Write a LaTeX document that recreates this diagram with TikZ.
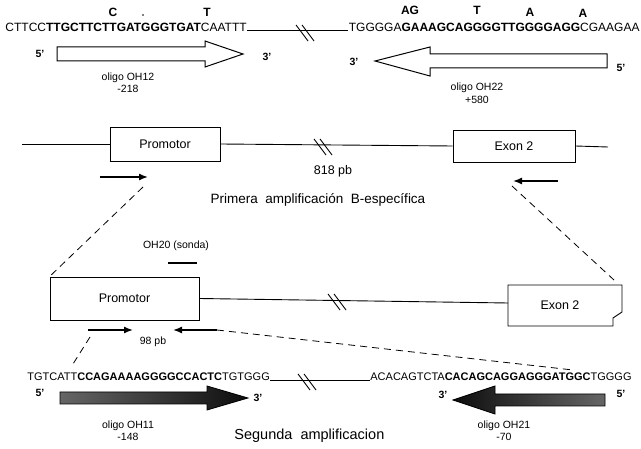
\documentclass[tikz,border=0pt]{standalone}
\usepackage{fontspec}
\setmainfont{Liberation Sans}
\usetikzlibrary{arrows.meta}

\begin{document}
\begin{tikzpicture}[x=1pt, y=-1pt, line width=0.9pt,
  seq/.style={inner sep=0pt, anchor=west, font=\fontsize{12}{12}\selectfont},
  mut/.style={inner sep=0pt, font=\fontsize{12}{12}\selectfont\bfseries},
  endlbl/.style={inner sep=0pt, font=\fontsize{10.5}{10}\selectfont\bfseries},
  lbl/.style={inner sep=0pt, font=\fontsize{10.5}{10}\selectfont},
  title/.style={inner sep=0pt, font=\fontsize{13.5}{14}\selectfont},
  region/.style={draw, inner sep=0pt, font=\fontsize{12.5}{13}\selectfont},
  primer/.style={line width=1.4pt, -{Latex[length=9pt,width=7pt]}},
  zoomline/.style={dashed, dash pattern=on 7pt off 5pt, line width=0.8pt},
  oligo/.style={draw, line width=1pt, fill=white},
  oligodark/.style={draw, line width=0.8pt, left color=black!60, right color=black!95},
  oligodarkrev/.style={draw, line width=0.8pt, left color=black!95, right color=black!60},
  brk/.pic={\draw (-8,-8) -- (4,8); \draw (-2,-8) -- (10,8);}]
  \useasboundingbox (0,0) rectangle (641,449);

  % top: sequences with mutations
  \node[seq] (seqTL) at (5,27) {CTTCC\textbf{TTGCTTCTTGATGGGTGAT}CAATTT};
  \node[seq, anchor=east] (seqTR) at (640,27) {TGGGGA\textbf{GAAAGCAGGGGTTGGGGAGG}CGAAGAA};
  \node[mut] (mutC) at (113,12) {C};
  \node[mut] (mutT) at (207,12) {T};
  \fill (143,15) circle (0.8);
  \node[mut] (mutAG) at (410,10) {AG};
  \node[mut] (mutT2) at (477,10) {T};
  \node[mut] (mutA) at (530,12) {A};
  \node[mut] (mutA2) at (583,13) {A};
  \draw ([yshift=-3pt]seqTL.east) -- ([yshift=-3pt]seqTR.west);
  \pic at (304,33) {brk};

  % oligo OH12 (sense)
  \draw[oligo] (57,47) -- (205,47) -- (205,41) -- (243,54) -- (205,67) -- (205,61) -- (57,61) -- cycle;
  \node[endlbl] (five1) at (40,54) {5'};
  \node[endlbl] (three1) at (267,57) {3'};
  \node[lbl] (oh12) at (128,78) {oligo OH12};
  \node[lbl] (pos12) at (128,89) {-218};

  % oligo OH22 (antisense)
  \draw[oligo] (607,54) -- (430,54) -- (430,47) -- (375,61) -- (430,76) -- (430,68) -- (607,68) -- cycle;
  \node[endlbl] (three2) at (354,62) {3'};
  \node[endlbl] (five2) at (621,68) {5'};
  \node[lbl] (oh22) at (477,88) {oligo OH22};
  \node[lbl] (pos22) at (477,100) {+580};

  % first amplification
  \coordinate (geneAl) at (22,144);
  \coordinate (geneAr) at (608,147);
  \node[region, minimum width=110pt, minimum height=34pt] (promA) at (165,144) {Promotor};
  \node[region, minimum width=122pt, minimum height=32pt] (exonA) at (514,146) {Exon 2};
  \draw (geneAl) -- (promA.west);
  \draw (promA.east) -- (exonA.west);
  \draw (exonA.east) -- (geneAr);
  \pic at (322,147) {brk};
  \node[region, draw=none] (len818) at (333,171) {818 pb};
  \coordinate (fwA0) at (100,177);
  \coordinate (fwA1) at (148,177);
  \coordinate (rvA0) at (558,181);
  \coordinate (rvA1) at (513,181);
  \draw[primer] (fwA0) -- (fwA1);
  \draw[primer] (rvA0) -- (rvA1);
  \node[title] (titleA) at (318,200) {Primera\ \ amplificación\ \ B-específica};

  % second amplification
  \node[lbl] (probe) at (176,246) {OH20 (sonda)};
  \coordinate (probe0) at (168,263);
  \coordinate (probe1) at (197,263);
  \draw[line width=1.6pt] (probe0) -- (probe1);
  \node[region, minimum width=149pt, minimum height=43pt] (promB) at (124.5,298.5) {Promotor};
  \node[inner sep=0pt, font=\fontsize{12.5}{13}\selectfont] (exonB) at (560,305) {Exon 2};
  \draw (508,285) -- (622,285) -- (622,312) -- (613,318) -- (613,326) -- (508,326) -- cycle;
  \coordinate (exonBw) at (508,303);
  \coordinate (exonBne) at (614,280);
  \draw (promB.east) -- (exonBw);
  \pic at (336,302) {brk};
  \coordinate (fwB0) at (88,330);
  \coordinate (fwB1) at (133,330);
  \coordinate (rvB0) at (217,330);
  \coordinate (rvB1) at (173,330);
  \draw[primer] (fwB0) -- (fwB1);
  \draw[primer] (rvB0) -- (rvB1);
  \node[lbl] (len98) at (153,342) {98 pb};

  % zoom lines
  \coordinate (zoomA) at (143,187);
  \coordinate (zoomB) at (512,186);
  \coordinate (zoomC0) at (90,337);
  \coordinate (zoomC1) at (73,364);
  \coordinate (zoomD) at (573,370);
  \draw[zoomline] (zoomA) -- (promB.north west);
  \draw[zoomline] (zoomB) -- (exonBne);
  \draw[zoomline] (zoomC0) -- (zoomC1);
  \draw[zoomline] (rvB0) -- (zoomD);

  % bottom sequences
  \node[seq, font=\fontsize{11}{11}\selectfont] (seqBL) at (27,377) {TGTCATT\textbf{CCAGAAAAGGGGCCACTC}TGTGGG};
  \node[seq, anchor=east, font=\fontsize{11}{11}\selectfont] (seqBR) at (632,377) {ACACAGTCTA\textbf{CACAGCAGGAGGGATGGC}TGGGG};
  \draw ([yshift=-3pt]seqBL.east) -- ([yshift=-3pt]seqBR.west);
  \pic at (306,382) {brk};

  % oligo OH11 and OH21
  \draw[oligodark] (60,392) -- (207,392) -- (207,386) -- (248,398) -- (207,410) -- (207,404) -- (60,404) -- cycle;
  \node[endlbl] (five3) at (40,393) {5'};
  \node[endlbl] (three3) at (258,398) {3'};
  \node[lbl] (oh11) at (128,426) {oligo OH11};
  \node[lbl] (pos11) at (128,437) {-148};
  \draw[oligodarkrev] (605,394) -- (495,394) -- (495,386) -- (453,400) -- (495,414) -- (495,406) -- (605,406) -- cycle;
  \node[endlbl] (three4) at (443,395) {3'};
  \node[endlbl] (five4) at (621,394) {5'};
  \node[lbl] (oh21) at (504,426) {oligo OH21};
  \node[lbl] (pos21) at (504,437) {-70};
  \node[title, anchor=west, font=\fontsize{14.5}{15}\selectfont] (titleB) at (234,436) {Segunda\ \ amplificacion};
\end{tikzpicture}
\end{document}
